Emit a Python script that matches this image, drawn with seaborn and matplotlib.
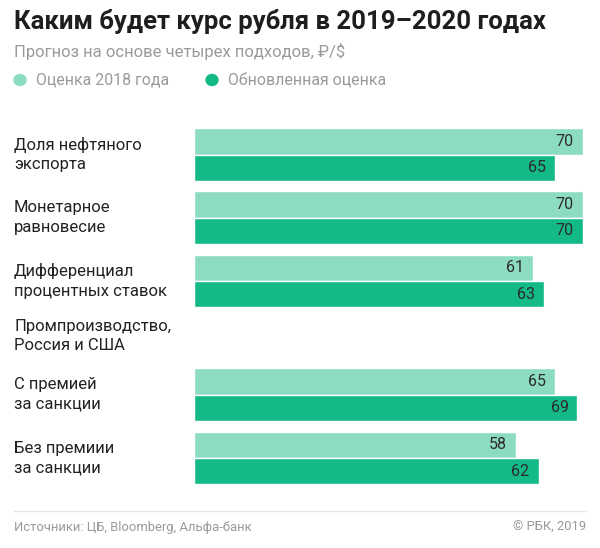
import matplotlib
matplotlib.use("Agg")
import matplotlib.pyplot as plt
import pandas as pd
import seaborn as sns

W, H = 600, 548

categories = ["Доля нефтяного\nэкспорта", "Монетарное\nравновесие",
              "Дифференциал\nпроцентных ставок", "С премией\nза санкции",
              "Без премиии\nза санкции"]
series = ["Оценка 2018 года", "Обновленная оценка"]
old_values = [70, 70, 61, 65, 58]
new_values = [65, 70, 63, 69, 62]
colors = {"Оценка 2018 года": "#8cdcc3", "Обновленная оценка": "#13b987"}

# group centres in pixel rows (layout only)
row_y = [154.5, 217.5, 281, 394.5, 458]

df = pd.DataFrame({
    "y": row_y * 2,
    "cat": categories * 2,
    "value": old_values + new_values,
    "series": [series[0]] * 5 + [series[1]] * 5,
})

sns.set_theme(style="white")
plt.rcParams["font.family"] = ["Roboto", "DejaVu Sans"]

fig = plt.figure(figsize=(W / 100, H / 100), dpi=100)
ax = fig.add_axes([0, 0, 1, 1])
scale = 389 / 70
x0 = 194
sns.barplot(data=df, x="value", y="y", hue="series", orient="h",
            native_scale=True, width=0.83, palette=colors, legend=False,
            saturation=1, ax=ax, linewidth=1, edgecolor="white")
ax.set_xlim(-x0 / scale, (W - x0) / scale)
ax.set_ylim(H, 0)
ax.axis("off")

for cont in ax.containers:
    for bar in cont:
        v = bar.get_width()
        ax.text(v - 9 / scale, bar.get_y() + bar.get_height() / 2, f"{v:.0f}",
                ha="right", va="center", fontsize=11.5, color="#2b2b2b")

for cat, y in zip(categories, row_y):
    ax.text(-x0 / scale + 14 / scale, y, cat, ha="left", va="center",
            fontsize=12, color="#222222", linespacing=1.4)
ax.text(-x0 / scale + 14 / scale, 336, "Промпроизводство,\nРоссия и США",
        ha="left", va="center", fontsize=12, color="#222222", linespacing=1.4)

def px(x, y):
    return x / W, 1 - y / H

fig.text(*px(14, 21), "Каким будет курс рубля в 2019–2020 годах", fontsize=18.5,
         fontweight="bold", color="#1e1e1e", va="center")
fig.text(*px(14, 52), "Прогноз на основе четырех подходов, ₽/$", fontsize=12,
         color="#9a9a9a", va="center")
for (lx, name) in [(20, series[0]), (212, series[1])]:
    fig.patches.append(plt.Circle(px(lx, 80), 6 / W, transform=fig.transFigure,
                                  color=colors[name]))
    fig.text(*px(lx + 16, 80), name, fontsize=11.4, color="#9a9a9a", va="center")

fig.add_artist(plt.Line2D([14 / W, 586 / W], [1 - 511 / H] * 2,
                          color="#e6e6e6", lw=1))
fig.text(*px(14, 527), "Источники: ЦБ, Bloomberg, Альфа-банк", fontsize=9.4,
         color="#9a9a9a", va="center")
fig.text(*px(586, 527), "© РБК, 2019", fontsize=9.4, color="#9a9a9a",
         va="center", ha="right")

fig.savefig("out.png", dpi=100, facecolor="white")
